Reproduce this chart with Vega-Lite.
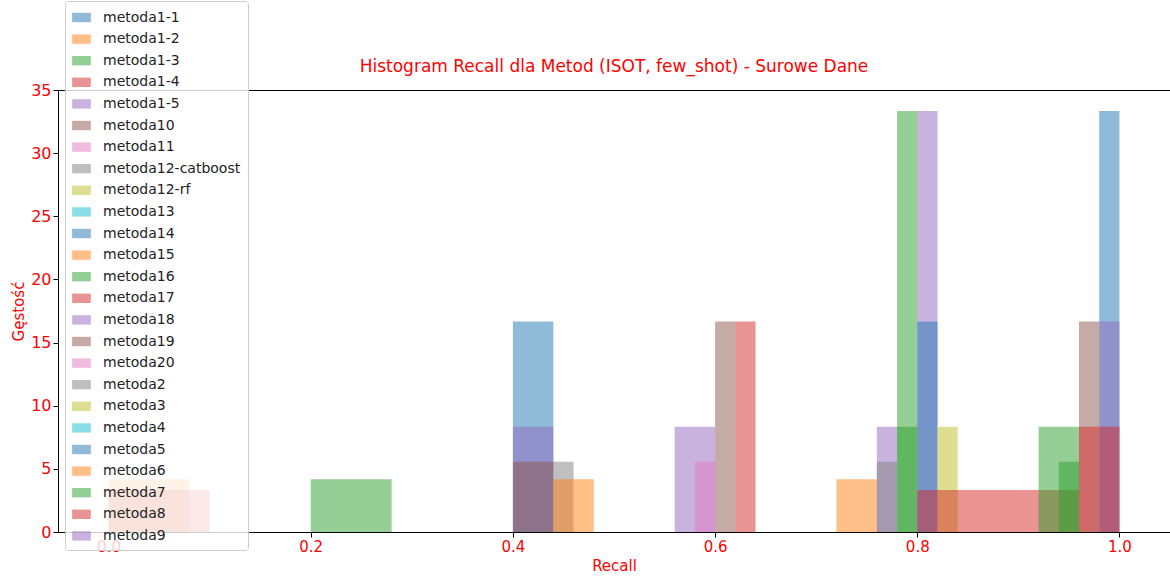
{
  "$schema": "https://vega.github.io/schema/vega-lite/v6.json",
  "width": 1170,
  "height": 586,
  "autosize": {"type": "fit", "contains": "padding"},
  "padding": {"left": 11, "right": 0, "top": 58, "bottom": 13},
  "title": {"text": "Histogram Recall dla Metod (ISOT, few_shot) - Surowe Dane", "color": "red", "fontSize": 17, "fontWeight": "normal", "font": "DejaVu Sans", "offset": 6},
  "config": {"view": {"stroke": "black"}, "font": "DejaVu Sans"},
  "data": {
    "values": [
      {"method": "metoda6", "x0": 0, "x1": 0.08, "density": 4.17},
      {"method": "metoda8", "x0": 0, "x1": 0.1, "density": 3.33},
      {"method": "metoda7", "x0": 0.2, "x1": 0.28, "density": 4.17},
      {"method": "metoda1-1", "x0": 0.4, "x1": 0.44, "density": 16.67},
      {"method": "metoda9", "x0": 0.4, "x1": 0.44, "density": 8.33},
      {"method": "metoda19", "x0": 0.4, "x1": 0.44, "density": 5.56},
      {"method": "metoda12-catboost", "x0": 0.44, "x1": 0.46, "density": 5.56},
      {"method": "metoda15", "x0": 0.44, "x1": 0.48, "density": 4.17},
      {"method": "metoda18", "x0": 0.56, "x1": 0.6, "density": 8.33},
      {"method": "metoda20", "x0": 0.58, "x1": 0.6, "density": 5.56},
      {"method": "metoda10", "x0": 0.6, "x1": 0.62, "density": 16.67},
      {"method": "metoda1-4", "x0": 0.62, "x1": 0.64, "density": 16.67},
      {"method": "metoda1-2", "x0": 0.72, "x1": 0.76, "density": 4.17},
      {"method": "metoda1-5", "x0": 0.76, "x1": 0.78, "density": 8.33},
      {"method": "metoda2", "x0": 0.76, "x1": 0.78, "density": 5.56},
      {"method": "metoda1-3", "x0": 0.78, "x1": 0.8, "density": 33.33},
      {"method": "metoda16", "x0": 0.78, "x1": 0.8, "density": 8.33},
      {"method": "metoda9", "x0": 0.8, "x1": 0.82, "density": 33.33},
      {"method": "metoda14", "x0": 0.8, "x1": 0.82, "density": 16.67},
      {"method": "metoda3", "x0": 0.82, "x1": 0.84, "density": 8.33},
      {"method": "metoda17", "x0": 0.8, "x1": 0.96, "density": 3.33},
      {"method": "metoda7", "x0": 0.92, "x1": 0.96, "density": 8.33},
      {"method": "metoda16", "x0": 0.94, "x1": 0.96, "density": 5.56},
      {"method": "metoda19", "x0": 0.96, "x1": 0.98, "density": 16.67},
      {"method": "metoda1-4", "x0": 0.96, "x1": 0.98, "density": 8.33},
      {"method": "metoda5", "x0": 0.98, "x1": 1.0, "density": 33.33},
      {"method": "metoda18", "x0": 0.98, "x1": 1.0, "density": 16.67},
      {"method": "metoda8", "x0": 0.98, "x1": 1.0, "density": 8.33}
    ]
  },
  "mark": {"type": "rect", "opacity": 0.5},
  "encoding": {
    "x": {
      "field": "x0", "type": "quantitative", "title": "Recall",
      "scale": {"domain": [-0.05, 1.05], "nice": false, "zero": false},
      "axis": {"values": [0, 0.2, 0.4, 0.6, 0.8, 1.0], "format": ".1f", "grid": false, "labelColor": "red", "titleColor": "red", "labelFontSize": 15, "titleFontSize": 15, "titleFontWeight": "normal", "domainColor": "black", "tickColor": "black", "labelFlush": false}
    },
    "x2": {"field": "x1"},
    "y": {
      "field": "density", "type": "quantitative", "title": "Gęstość",
      "scale": {"domain": [0, 35], "nice": false},
      "axis": {"values": [0, 5, 10, 15, 20, 25, 30, 35], "grid": false, "labelColor": "red", "titleColor": "red", "labelFontSize": 16, "titleFontSize": 15, "titleFontWeight": "normal", "domainColor": "black", "tickColor": "black"}
    },
    "y2": {"datum": 0},
    "color": {
      "field": "method", "type": "nominal", "title": null,
      "scale": {
        "domain": ["metoda1-1", "metoda1-2", "metoda1-3", "metoda1-4", "metoda1-5", "metoda10", "metoda11", "metoda12-catboost", "metoda12-rf", "metoda13", "metoda14", "metoda15", "metoda16", "metoda17", "metoda18", "metoda19", "metoda20", "metoda2", "metoda3", "metoda4", "metoda5", "metoda6", "metoda7", "metoda8", "metoda9"],
        "range": ["#1f77b4", "#ff7f0e", "#2ca02c", "#d62728", "#9467bd", "#8c564b", "#e377c2", "#7f7f7f", "#bcbd22", "#17becf", "#1f77b4", "#ff7f0e", "#2ca02c", "#d62728", "#9467bd", "#8c564b", "#e377c2", "#7f7f7f", "#bcbd22", "#17becf", "#1f77b4", "#ff7f0e", "#2ca02c", "#d62728", "#9467bd"]
      },
      "legend": {
        "orient": "none", "legendX": 7, "legendY": -89,
        "symbolType": "M-1,-0.5H1V0.5H-1Z", "symbolSize": 350, "symbolOpacity": 0.5, "symbolStrokeWidth": 0,
        "labelFontSize": 14, "labelColor": "#222", "rowPadding": 4.6, "labelOffset": 12,
        "fillColor": "rgba(255,255,255,0.8)", "strokeColor": "#ccc", "padding": 7, "cornerRadius": 3,
        "symbolLimit": 0, "zindex": 1
      }
    }
  }
}
